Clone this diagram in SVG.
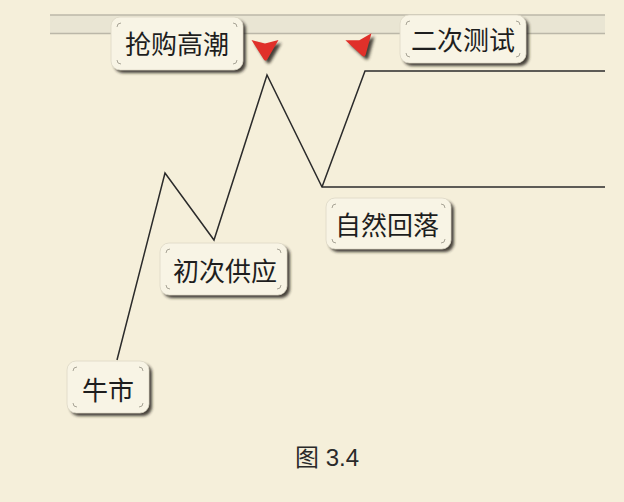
<svg xmlns="http://www.w3.org/2000/svg" width="624" height="502" viewBox="0 0 624 502">
<defs>
<style>
.lbl{font-family:"Noto Sans CJK SC","Noto Sans",sans-serif;font-size:26px;fill:#1e1e1e;text-anchor:middle;dominant-baseline:central}
.box{fill:#f8f4e5;stroke:#ddd8c6;stroke-width:0.8}
.shadow{fill:#25211b;opacity:0.85}
.tick{fill:none;stroke:#a8a496;stroke-width:1}
.conn{fill:none;stroke:#2b2b2b;stroke-width:1.5;stroke-linejoin:miter}
.arrow{fill:#e0302a}
.cap{font-family:"Liberation Sans","Noto Sans CJK SC",sans-serif;font-size:24px;fill:#2a2a2a;text-anchor:middle;dominant-baseline:central}
</style>
<filter id="blur" x="-20%" y="-20%" width="140%" height="140%"><feGaussianBlur stdDeviation="1.6"/></filter>
<path id="chev" d="M-13.5,-10 L0,-6.5 L13.5,-10 L2.5,9 Q0.5,12 -1.5,9 Z"/>
</defs>
<rect x="0" y="0" width="624" height="502" fill="#f5efda"/>
<rect x="50" y="15" width="555" height="18.5" fill="#e9e5d3"/>
<line x1="50" y1="15" x2="605" y2="15" stroke="#bbb7a8" stroke-width="1.5"/>
<line x1="50" y1="33.5" x2="605" y2="33.5" stroke="#bbb7a8" stroke-width="1.5"/>

<g id="connectors">
<polyline class="conn" points="117,360 165,173 214,240 267,75 322,187 605,187"/>
<polyline class="conn" points="322,187 365,71 605,71"/>
</g>

<g id="markers">
<use href="#chev" transform="translate(268,53)" class="shadow" filter="url(#blur)"/>
<use href="#chev" transform="translate(265,50)" class="arrow"/>
<use href="#chev" transform="translate(364,49.5) rotate(-15)" class="shadow" filter="url(#blur)"/>
<use href="#chev" transform="translate(361,46.5) rotate(-15)" class="arrow"/>
</g>

<g id="n1">
<rect x="114" y="20" width="132" height="53" rx="9" class="shadow" filter="url(#blur)"/>
<rect x="111" y="17" width="132" height="53" rx="9" class="box"/>
<path class="tick" d="M117,27 q0,-4 4,-4 M237,27 q0,-4 -4,-4 M117,60 q0,4 4,4 M237,60 q0,4 -4,4"/>
<text x="177" y="42" class="lbl">抢购高潮</text>
</g>

<g id="n2">
<rect x="403" y="18" width="126" height="48" rx="9" class="shadow" filter="url(#blur)"/>
<rect x="400" y="15" width="126" height="48" rx="9" class="box"/>
<path class="tick" d="M406,25 q0,-4 4,-4 M520,25 q0,-4 -4,-4 M406,53 q0,4 4,4 M520,53 q0,4 -4,4"/>
<text x="463" y="38.5" class="lbl">二次测试</text>
</g>

<g id="n3">
<rect x="329" y="201" width="125" height="51" rx="9" class="shadow" filter="url(#blur)"/>
<rect x="326" y="198" width="125" height="51" rx="9" class="box"/>
<path class="tick" d="M332,208 q0,-4 4,-4 M445,208 q0,-4 -4,-4 M332,239 q0,4 4,4 M445,239 q0,4 -4,4"/>
<text x="387" y="223" class="lbl">自然回落</text>
</g>

<g id="n4">
<rect x="163" y="246" width="127" height="52" rx="9" class="shadow" filter="url(#blur)"/>
<rect x="160" y="243" width="127" height="52" rx="9" class="box"/>
<path class="tick" d="M166,253 q0,-4 4,-4 M281,253 q0,-4 -4,-4 M166,285 q0,4 4,4 M281,285 q0,4 -4,4"/>
<text x="225" y="269.5" class="lbl">初次供应</text>
</g>

<g id="n5">
<rect x="70" y="364" width="82" height="52" rx="9" class="shadow" filter="url(#blur)"/>
<rect x="67" y="361" width="82" height="52" rx="9" class="box"/>
<path class="tick" d="M73,371 q0,-4 4,-4 M143,371 q0,-4 -4,-4 M73,403 q0,4 4,4 M143,403 q0,4 -4,4"/>
<text x="108" y="388" class="lbl">牛市</text>
</g>

<text x="327" y="457" class="cap">图 3.4</text>
</svg>
